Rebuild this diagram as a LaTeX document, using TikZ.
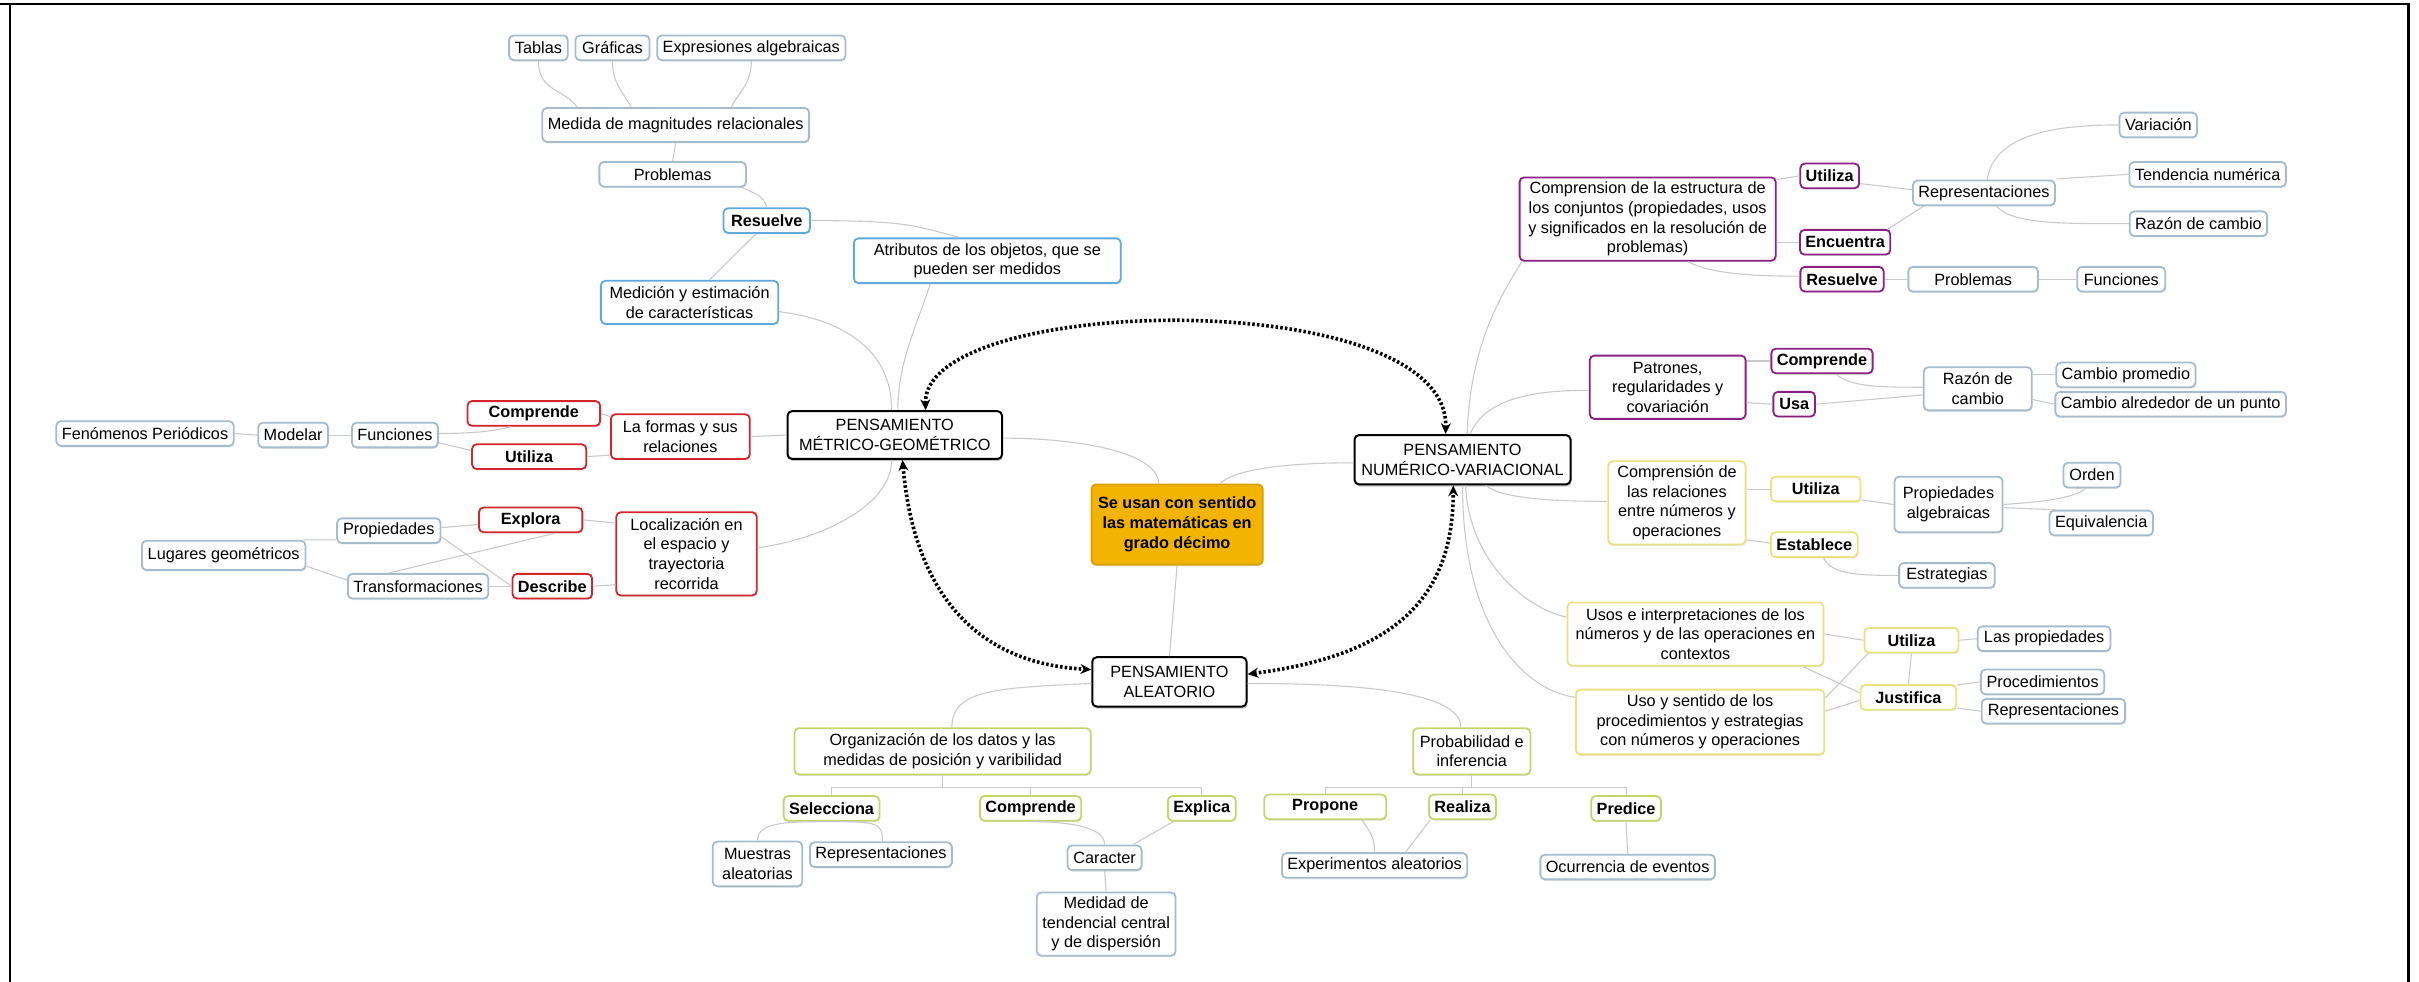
\documentclass[tikz,border=0pt]{standalone}
\usepackage{fontspec}
\setmainfont{Liberation Sans}
\usetikzlibrary{arrows.meta,calc,shadows}

\definecolor{leafc}{HTML}{A6BCCC}
\definecolor{bluec}{HTML}{5DA9E0}
\definecolor{redc}{HTML}{D3252B}
\definecolor{purpc}{HTML}{8C1F82}
\definecolor{yelc}{HTML}{E9E27E}
\definecolor{greenc}{HTML}{C3D66E}
\definecolor{orangef}{HTML}{F2B400}
\definecolor{oranged}{HTML}{D9A100}
\definecolor{linkc}{HTML}{C9C9C9}

\tikzset{
  box/.style={draw, rounded corners=2.5pt, line width=1pt, fill=white, align=center,
    inner xsep=3pt, inner ysep=2pt, minimum height=0.48cm, font=\fontsize{9}{10.8}\selectfont},
  lightshadow/.style={drop shadow={shadow xshift=0.3pt, shadow yshift=-0.8pt, opacity=0.2}},
  vb/.style={font=\fontsize{9}{10.8}\selectfont\bfseries},
  leaf/.style={box, draw=leafc, lightshadow},
  bluebox/.style={box, draw=bluec, lightshadow},
  redbox/.style={box, draw=redc, lightshadow},
  purpbox/.style={box, draw=purpc, lightshadow},
  yelbox/.style={box, draw=yelc, lightshadow},
  grnbox/.style={box, draw=greenc, lightshadow},
  mainbox/.style={box, draw=black, line width=1.1pt,
    drop shadow={shadow xshift=0.5pt, shadow yshift=-1.2pt, opacity=0.45}},
  centrebox/.style={box, draw=oranged, fill=orangef, lightshadow, font=\fontsize{9}{11}\selectfont\bfseries},
  link/.style={draw=linkc, line width=0.6pt},
  rel/.style={line width=2pt, dash pattern=on 1.4pt off 1.2pt,
    {Stealth[length=6pt,width=5.5pt]}-{Stealth[length=6pt,width=5.5pt]}},
}

\begin{document}
\begin{tikzpicture}[x=0.03cm,y=-0.03cm]
\useasboundingbox (0,0) rectangle (1568,636.5);

\draw [line width=0.6pt] (0,2.6) -- (1497,2.6);
\draw [line width=1.6pt] (1497,2.6) -- (1561,2.6) -- (1561,636.5);
\draw [line width=1.6pt] (6.5,2.6) -- (6.5,636.5);

\node[mainbox, minimum width=4.17cm, minimum height=0.93cm] (metrico) at (580,282) {PENSAMIENTO\\MÉTRICO-GEOMÉTRICO};
\node[centrebox, minimum width=3.33cm, minimum height=1.56cm] (centro) at (763,340) {Se usan con sentido\\las matemáticas en\\grado décimo};
\node[mainbox, minimum width=4.2cm, minimum height=0.96cm] (numerico) at (948,298) {PENSAMIENTO\\NUMÉRICO-VARIACIONAL};
\node[mainbox, minimum width=3cm, minimum height=0.96cm] (aleatorio) at (758,442) {PENSAMIENTO\\ALEATORIO};

\node[leaf, minimum width=1.14cm] (tablas) at (349,31) {Tablas};
\node[leaf, minimum width=1.44cm] (graficas) at (397,31) {Gráficas};
\node[leaf, minimum width=3.66cm] (expresiones) at (487,31) {Expresiones algebraicas};
\node[leaf, minimum width=5.1cm, minimum height=0.66cm] (medida) at (438,81) {Medida de magnitudes relacionales};
\node[leaf, minimum width=2.85cm] (problemasA) at (436,113) {Problemas};
\node[bluebox, vb, minimum width=1.68cm] (resuelveA) at (497,143) {Resuelve};
\node[bluebox, minimum width=5.19cm, minimum height=0.87cm] (atributos) at (640,169) {Atributos de los objetos, que se\\pueden ser medidos};
\node[bluebox, minimum width=3.45cm, minimum height=0.84cm] (medicion) at (447,196) {Medición y estimación\\de características};

\node[redbox, minimum width=2.7cm, minimum height=0.87cm] (formas) at (441,283) {La formas y sus\\relaciones};
\node[redbox, vb, minimum width=2.58cm] (comprendeR) at (346,268) {Comprende};
\node[redbox, vb, minimum width=2.22cm] (utilizaR) at (343,296) {Utiliza};
\node[leaf, minimum width=1.65cm] (funcionesR) at (256,282) {Funciones};
\node[leaf, minimum width=1.35cm] (modelar) at (190,282) {Modelar};
\node[leaf, minimum width=3.45cm] (fenomenos) at (94,281) {Fenómenos Periódicos};
\node[redbox, minimum width=2.73cm, minimum height=1.62cm] (localizacion) at (445,359) {Localización en\\el espacio y\\trayectoria\\recorrida};
\node[redbox, vb, minimum width=2.01cm] (explora) at (344,337) {Explora};
\node[redbox, vb, minimum width=1.53cm] (describe) at (358,380) {Describe};
\node[leaf, minimum width=2.01cm] (propiedadesR) at (252,344) {Propiedades};
\node[leaf, minimum width=3.18cm, minimum height=0.57cm] (lugares) at (145,360) {Lugares geométricos};
\node[leaf, minimum width=2.73cm] (transformaciones) at (271,380) {Transformaciones};

\node[purpbox, minimum width=4.98cm, minimum height=1.62cm] (conjuntos) at (1068,142) {Comprension de la estructura de\\los conjuntos (propiedades, usos\\y significados en la resolución de\\problemas)};
\node[purpbox, vb, minimum width=1.11cm] (utilizaP) at (1186,114) {Utiliza};
\node[purpbox, vb, minimum width=1.74cm] (encuentra) at (1196,157) {Encuentra};
\node[purpbox, vb, minimum width=1.62cm] (resuelveP) at (1194,181) {Resuelve};
\node[leaf, minimum width=2.76cm] (representacionesP) at (1286,125) {Representaciones};
\node[leaf, minimum width=1.5cm] (variacion) at (1399,81) {Variación};
\node[leaf, minimum width=3.03cm] (tendencia) at (1431,113) {Tendencia numérica};
\node[leaf, minimum width=2.64cm] (razonA) at (1425,145) {Razón de cambio};
\node[leaf, minimum width=2.52cm] (problemasP) at (1279,181) {Problemas};
\node[leaf, minimum width=1.71cm] (funcionesP) at (1375,181) {Funciones};
\node[purpbox, minimum width=3.03cm, minimum height=1.23cm] (patrones) at (1081,251) {Patrones,\\regularidades y\\covariación};
\node[purpbox, vb, minimum width=1.92cm] (comprendeP) at (1181,234) {Comprende};
\node[purpbox, vb, minimum width=0.81cm] (usa) at (1163,262) {Usa};
\node[leaf, minimum width=2.1cm, minimum height=0.84cm] (razonB) at (1282,252) {Razón de\\cambio};
\node[leaf, minimum width=2.67cm] (promedio) at (1378,243) {Cambio promedio};
\node[leaf, minimum width=4.41cm] (alrededor) at (1407,262) {Cambio alrededor de un punto};

\node[yelbox, minimum width=2.67cm, minimum height=1.62cm] (relaciones) at (1087,326) {Comprensión de\\las relaciones\\entre números y\\operaciones};
\node[yelbox, vb, minimum width=1.74cm] (utilizaY) at (1177,317) {Utiliza};
\node[yelbox, vb, minimum width=1.68cm] (establece) at (1176,353) {Establece};
\node[leaf, minimum width=2.1cm, minimum height=1.08cm] (algebraicas) at (1263,327) {Propiedades\\algebraicas};
\node[leaf, minimum width=1.11cm] (orden) at (1356,308) {Orden};
\node[leaf, minimum width=2.01cm] (equivalencia) at (1362,339) {Equivalencia};
\node[leaf, minimum width=1.86cm] (estrategias) at (1262,373) {Estrategias};
\node[yelbox, minimum width=4.98cm, minimum height=1.23cm] (usos) at (1099,411) {Usos e interpretaciones de los\\números y de las operaciones en\\contextos};
\node[yelbox, vb, minimum width=1.83cm] (utilizaZ) at (1239,415) {Utiliza};
\node[yelbox, vb, minimum width=1.86cm] (justifica) at (1237,452) {Justifica};
\node[leaf, minimum width=2.58cm] (laspropiedades) at (1325,414) {Las propiedades};
\node[leaf, minimum width=2.4cm] (procedimientos) at (1324,442) {Procedimientos};
\node[leaf, minimum width=2.79cm] (representacionesZ) at (1331,461) {Representaciones};
\node[yelbox, minimum width=4.83cm, minimum height=1.26cm] (sentido) at (1102,468) {Uso y sentido de los\\procedimientos y estrategias\\con números y operaciones};

\node[grnbox, minimum width=5.76cm, minimum height=0.9cm] (organizacion) at (611,487) {Organización de los datos y las\\medidas de posición y varibilidad};
\node[grnbox, vb, minimum width=1.86cm] (selecciona) at (539,524) {Selecciona};
\node[grnbox, vb, minimum width=1.86cm] (comprendeG) at (668,524) {Comprende};
\node[grnbox, vb, minimum width=1.26cm] (explica) at (779,524) {Explica};
\node[grnbox, minimum width=2.28cm, minimum height=0.9cm] (probabilidad) at (954,487) {Probabilidad e\\inferencia};
\node[grnbox, vb, minimum width=2.37cm] (propone) at (859,523) {Propone};
\node[grnbox, vb, minimum width=1.29cm] (realiza) at (948,523) {Realiza};
\node[grnbox, vb, minimum width=1.35cm] (predice) at (1054,524) {Predice};
\node[leaf, minimum width=1.74cm, minimum height=0.87cm] (muestras) at (491,560) {Muestras\\aleatorias};
\node[leaf, minimum width=2.73cm] (representacionesG) at (571,554) {Representaciones};
\node[leaf, minimum width=1.44cm] (caracter) at (716,556) {Caracter};
\node[leaf, minimum width=2.7cm, minimum height=1.23cm] (medidad) at (717,599) {Medidad de\\tendencial central\\y de dispersión};
\node[leaf, minimum width=3.54cm] (experimentos) at (891,561) {Experimentos aleatorios};
\node[leaf, minimum width=3.33cm] (ocurrencia) at (1055,562) {Ocurrencia de eventos};

\draw[link] (tablas.south) .. controls +(0,20) and +(-8,-12) .. ($(medida.north)+(-64,0)$);
\draw[link] (graficas.south) .. controls +(0,15) and +(-5,-10) .. ($(medida.north)+(-29,0)$);
\draw[link] (expresiones.south) .. controls +(0,15) and +(5,-10) .. ($(medida.north)+(36,0)$);
\draw[link] (medida.south) -- (problemasA.north);
\draw[link] ($(problemasA.south east)+(-3,0)$) .. controls +(8,4) and +(-2,-8) .. (resuelveA.north);
\draw[link] ($(resuelveA.south)+(-7,0)$) -- ($(medicion.north)+(13,0)$);
\draw[link] (resuelveA.east) .. controls +(60,0) and +(-30,-8) .. ($(atributos.north)+(-18,0)$);
\draw[link] ($(medicion.east)+(0,6)$) .. controls +(40,5) and +(0,-40) .. ($(metrico.north)+(-2,0)$);
\draw[link] ($(atributos.south)+(-37,0)$) .. controls +(-10,30) and +(0,-30) .. ($(metrico.north)+(2,0)$);

\draw[link] (formas.east) -- (metrico.west);
\draw[link] ($(localizacion.east)+(0,-4)$) .. controls +(40,-5) and +(0,30) .. ($(metrico.south)+(-2,0)$);
\draw[link] ($(metrico.east)+(0,2)$) .. controls +(50,0) and +(0,-20) .. ($(centro.north)+(-12,0)$);
\draw[link] ($(centro.north)+(28,0)$) .. controls +(10,-10) and +(-40,0) .. ($(numerico.west)+(0,2)$);
\draw[link] (centro.south) -- (aleatorio.north);

\draw[link] ($(formas.west)+(0,-13)$) -- (comprendeR.east);
\draw[link] ($(formas.west)+(0,12)$) -- (utilizaR.east);
\draw[link] ($(comprendeR.south)+(-15,0)$) .. controls +(-10,3) and +(20,0) .. ($(funcionesR.east)+(0,-1)$);
\draw[link] ($(utilizaR.west)+(0,-4)$) -- ($(funcionesR.east)+(0,5)$);
\draw[link] (funcionesR.west) -- (modelar.east);
\draw[link] (modelar.west) -- (fenomenos.east);
\draw[link] ($(localizacion.west)+(0,-20)$) -- (explora.east);
\draw[link] ($(localizacion.west)+(0,20)$) -- (describe.east);
\draw[link] ($(explora.west)+(0,3)$) -- ($(propiedadesR.east)+(0,-2)$);
\draw[link] ($(explora.south)+(16,0)$) -- ($(transformaciones.north)+(-19,0)$);
\draw[link] ($(propiedadesR.east)+(0,4)$) -- (describe.west);
\draw[link] (transformaciones.east) -- (describe.west);
\draw[link] ($(propiedadesR.west)+(0,6)$) -- ($(lugares.north east)+(-2,0)$);
\draw[link] ($(transformaciones.west)+(0,-4)$) -- ($(lugares.east)+(0,7)$);

\draw[link] ($(numerico.north)+(3,0)$) .. controls +(2,-60) and +(-12,20) .. ($(conjuntos.south west)+(2,0)$);
\draw[link] ($(numerico.north)+(5,0)$) .. controls +(10,-25) and +(-30,0) .. ($(patrones.west)+(0,2)$);
\draw[link] ($(conjuntos.north east)+(0,2)$) -- (utilizaP.west);
\draw[link] ($(conjuntos.east)+(0,15)$) -- (encuentra.west);
\draw[link] ($(conjuntos.south)+(26,0)$) .. controls +(15,8) and +(-30,0) .. ($(resuelveP.west)+(0,-2)$);
\draw[link] ($(utilizaP.east)+(0,5)$) -- ($(representacionesP.west)+(0,-2)$);
\draw[link] ($(encuentra.north east)+(-2,0)$) -- ($(representacionesP.south)+(-39,0)$);
\draw[link] ($(representacionesP.north)+(2,0)$) .. controls +(5,-30) and +(-40,0) .. (variacion.west);
\draw[link] ($(representacionesP.east)+(0,-9)$) -- (tendencia.west);
\draw[link] ($(representacionesP.south)+(8,0)$) .. controls +(10,12) and +(-40,0) .. (razonA.west);
\draw[link] (resuelveP.east) -- (problemasP.west);
\draw[link] (problemasP.east) -- (funcionesP.west);
\draw[link] ($(patrones.east)+(0,-17)$) -- (comprendeP.west);
\draw[link] ($(patrones.east)+(0,10)$) -- (usa.west);
\draw[link] ($(comprendeP.south)+(9,0)$) .. controls +(10,8) and +(-30,0) .. ($(razonB.west)+(0,-1)$);
\draw[link] (usa.east) -- ($(razonB.west)+(0,4)$);
\draw[link] ($(razonB.east)+(0,-9)$) -- (promedio.west);
\draw[link] ($(razonB.east)+(0,7)$) -- (alrededor.west);

\draw[link] ($(numerico.south)+(15,0)$) .. controls +(10,8) and +(-40,0) .. ($(relaciones.west)+(0,-1)$);
\draw[link] ($(numerico.south)+(2,0)$) .. controls +(2,50) and +(-25,-5) .. ($(usos.west)+(0,-11)$);
\draw[link] (numerico.south) .. controls +(0,90) and +(-35,-5) .. ($(sentido.west)+(0,-16)$);
\draw[link] ($(relaciones.east)+(0,-9)$) -- (utilizaY.west);
\draw[link] ($(relaciones.east)+(0,24)$) -- ($(establece.west)+(0,-1)$);
\draw[link] ($(utilizaY.east)+(0,7)$) -- (algebraicas.west);
\draw[link] ($(establece.south)+(6,0)$) .. controls +(5,10) and +(-30,0) .. (estrategias.west);
\draw[link] (algebraicas.east) .. controls +(30,-2) and +(-8,6) .. ($(orden.south)+(-4,0)$);
\draw[link] ($(algebraicas.east)+(0,2)$) -- ($(equivalencia.north west)+(4,0)$);
\draw[link] (usos.east) -- (utilizaZ.west);
\draw[link] ($(usos.south east)+(-14,0)$) -- ($(justifica.west)+(0,-3)$);
\draw[link] ($(sentido.north east)+(0,6)$) -- ($(utilizaZ.south west)+(3,0)$);
\draw[link] ($(sentido.east)+(0,-7)$) -- ($(justifica.west)+(0,2)$);
\draw[link] (utilizaZ.south) -- (justifica.north);
\draw[link] (utilizaZ.east) -- (laspropiedades.west);
\draw[link] ($(justifica.east)+(0,-8)$) -- (procedimientos.west);
\draw[link] ($(justifica.east)+(0,7)$) -- (representacionesZ.west);

\draw[link] ($(aleatorio.west)+(0,1)$) .. controls +(-60,3) and +(0,-25) .. ($(organizacion.north)+(6,0)$);
\draw[link] ($(aleatorio.east)+(0,1)$) .. controls +(60,0) and +(0,-25) .. ($(probabilidad.north)+(-7,0)$);
\draw[link] (organizacion.south) -- ++(0,8) -| (selecciona.north);
\draw[link] (organizacion.south) -- ++(0,8) -| (comprendeG.north);
\draw[link] (organizacion.south) -- ++(0,8) -| (explica.north);
\draw[link] (probabilidad.south) -- ++(0,8) -| (propone.north);
\draw[link] (probabilidad.south) -- ++(0,8) -| (realiza.north);
\draw[link] (probabilidad.south) -- ++(0,8) -| (predice.north);
\draw[link] (selecciona.south) .. controls +(-30,0) and +(0,-12) .. (muestras.north);
\draw[link] (selecciona.south) .. controls +(30,0) and +(0,-12) .. ($(representacionesG.north)+(1,0)$);
\draw[link] (comprendeG.south) .. controls +(30,0) and +(0,-10) .. (caracter.north);
\draw[link] ($(explica.south west)+(4,0)$) -- ($(caracter.north east)+(-6,0)$);
\draw[link] (caracter.south) -- (medidad.north);
\draw[link] ($(propone.south)+(24,0)$) .. controls +(5,8) and +(0,-10) .. (experimentos.north);
\draw[link] ($(realiza.south)+(-21,0)$) -- ($(experimentos.north)+(20,0)$);
\draw[link] (predice.south) -- (ocurrencia.north);

\draw[rel] ($(metrico.north)+(20,0)$) .. controls +(-2,-76) and +(3,-97) .. ($(numerico.north)+(-11,0)$);
\draw[rel] ($(metrico.south)+(5,0)$) .. controls +(7,82) and +(-78,-4) .. ($(aleatorio.west)+(0,-8)$);
\draw[rel] ($(aleatorio.east)+(0,-5)$) .. controls +(92,-12) and +(0,76) .. ($(numerico.south)+(-6,0)$);
\end{tikzpicture}
\end{document}
